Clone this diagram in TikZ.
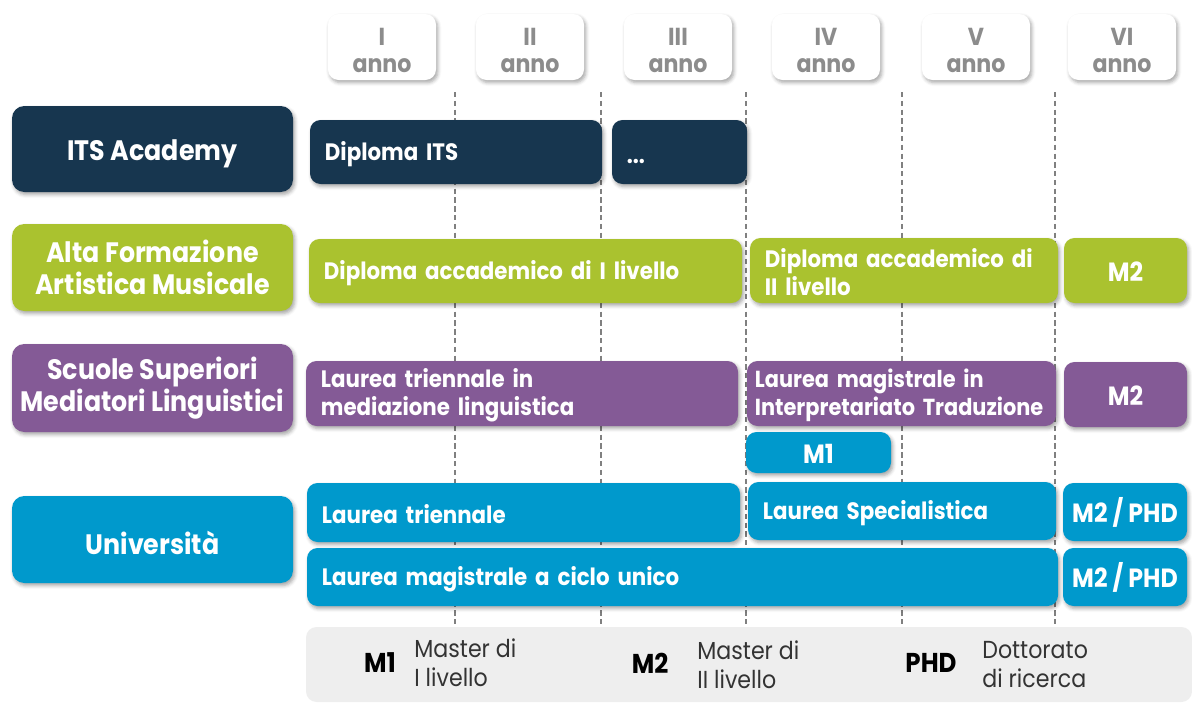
\documentclass[tikz,border=0pt]{standalone}
\usepackage{fontspec}
\setmainfont{Poppins}[FakeStretch=0.9]
\usetikzlibrary{shadows.blur}

\definecolor{itsnavy}{HTML}{17364F}
\definecolor{afamgreen}{HTML}{AAC22F}
\definecolor{ssmlpurple}{HTML}{845A96}
\definecolor{unicyan}{HTML}{0099CC}
\definecolor{yeargray}{HTML}{8C8C8C}
\definecolor{legendbg}{HTML}{EEEEEE}

\newcommand{\block}[8][17pt]{%
  \node[#3, anchor=north west, outer sep=0pt,
    text width={(#6-#4)*0.2mm-#1},
    minimum height={(#7-#5)*0.2mm}] (#2) at (#4,#5) {#8};}
\newcommand{\badge}[7]{%
  \node[#2, anchor=north west, outer sep=0pt,
    minimum width={(#5-#3)*0.2mm}, minimum height={(#6-#4)*0.2mm}] (#1) at (#3,#4) {#7};}

\begin{document}
\begin{tikzpicture}[
    x=0.2mm, y=-0.2mm,
    soft/.style={blur shadow={shadow xshift=1pt, shadow yshift=-1.5pt, shadow blur radius=2pt, shadow opacity=35}},
    lowered/.style={execute at begin node={\rule{0pt}{#1}}},
    tier/.style={rounded corners=7pt, fill=#1, text=white, soft, align=center, inner sep=0pt,
      font=\bfseries\fontsize{16}{18.5}\selectfont, lowered=1.05em},
    course/.style={rounded corners=6pt, fill=#1, text=white, soft, align=left, inner xsep=8.5pt, inner ysep=0pt,
      font=\bfseries\fontsize{13.5}{16}\selectfont, lowered=0.95em},
    short/.style={rounded corners=6pt, fill=#1, text=white, soft, align=center, inner sep=0pt,
      font=\bfseries\fontsize{15}{16}\selectfont, lowered=0.85em},
    year/.style={rounded corners=6pt, fill=white, text=yeargray, soft, align=center, inner sep=0pt,
      font=\bfseries\fontsize{14}{15.5}\selectfont, text height=29.5pt, text depth=0pt},
    yearline/.style={draw=gray, dash pattern=on 3pt off 2pt, line width=0.6pt},
    legendkey/.style={font=\bfseries\fontsize{15.5}{17}\selectfont, text=black},
    legendtext/.style={font=\fontsize{14}{16.5}\selectfont, text=black!80, align=left, anchor=west, inner sep=0pt}
]
    \useasboundingbox (0,0) rectangle (1192,702);

    \badge{yearone}{year}{328}{14}{436}{80}{I\\anno}
    \badge{yeartwo}{year}{476}{14}{584}{80}{II\\anno}
    \badge{yearthree}{year}{624}{14}{732}{80}{III\\anno}
    \badge{yearfour}{year}{772}{14}{880}{80}{IV\\anno}
    \badge{yearfive}{year}{922}{14}{1030}{80}{V\\anno}
    \badge{yearsix}{year}{1068}{14}{1176}{80}{VI\\anno}

    \draw[yearline] (455,92) -- (455,627);
    \draw[yearline] (601,92) -- (601,627);
    \draw[yearline] (746,92) -- (746,627);
    \draw[yearline] (902,92) -- (902,627);
    \draw[yearline] (1055,92) -- (1055,627);

    \badge{itsbox}{tier=itsnavy}{12}{106}{293}{192}{ITS Academy}
    \badge{afambox}{tier=afamgreen}{12}{224}{293}{311}{Alta Formazione\\Artistica Musicale}
    \badge{ssmlbox}{tier=ssmlpurple}{12}{344}{293}{432}{Scuole Superiori\\Mediatori Linguistici}
    \badge{unibox}{tier=unicyan}{12}{496}{293}{583}{Università}

    \block{itsdipl}{course=itsnavy}{310}{120}{602}{184}{Diploma ITS}
    \block{itsmore}{course=itsnavy}{612}{120}{747}{184}{...}

    \block{afamfirst}{course=afamgreen}{309}{239}{742}{303}{Diploma accademico di I livello}
    \block{afamsecond}{course=afamgreen}{750}{238}{1058}{303}{Diploma accademico di\\II livello}
    \badge{afamtop}{short=afamgreen}{1064}{238}{1187}{303}{M2}

    \block{ssmlfirst}{course=ssmlpurple}{306}{361}{738}{426}{Laurea triennale in\\mediazione linguistica}
    \block[9pt]{ssmlsecond}{course=ssmlpurple, inner xsep=4.5pt, font=\bfseries\fontsize{13.2}{16}\selectfont}{747}{361}{1056}{426}{Laurea magistrale in\\Interpretariato Traduzione}
    \badge{ssmltop}{short=ssmlpurple}{1064}{362}{1187}{427}{M2}

    \badge{unimaster}{short=unicyan}{746}{432}{891}{473}{M1}
    \block{unifirst}{course=unicyan}{307}{483}{740}{542}{Laurea triennale}
    \block{unisecond}{course=unicyan}{748}{482}{1056}{540}{Laurea Specialistica}
    \badge{unitop}{short=unicyan}{1063}{483}{1187}{541}{M2 / PHD}
    \block{unifull}{course=unicyan}{307}{548}{1058}{606}{Laurea magistrale a ciclo unico}
    \badge{unifulltop}{short=unicyan}{1063}{548}{1187}{606}{M2 / PHD}

    \fill[legendbg, rounded corners=6pt] (306,702) |- (1192,627) -- (1192,702) -- cycle;
    \node[legendkey] (keyone) at (380,663) {M1};
    \node[legendtext] (textone) at (414,663) {Master di\\I livello};
    \node[legendkey] (keytwo) at (650,663) {M2};
    \node[legendtext] (texttwo) at (697,665) {Master di\\II livello};
    \node[legendkey] (keythree) at (931,663) {PHD};
    \node[legendtext] (textthree) at (982,665) {Dottorato\\di ricerca};
\end{tikzpicture}
\end{document}
